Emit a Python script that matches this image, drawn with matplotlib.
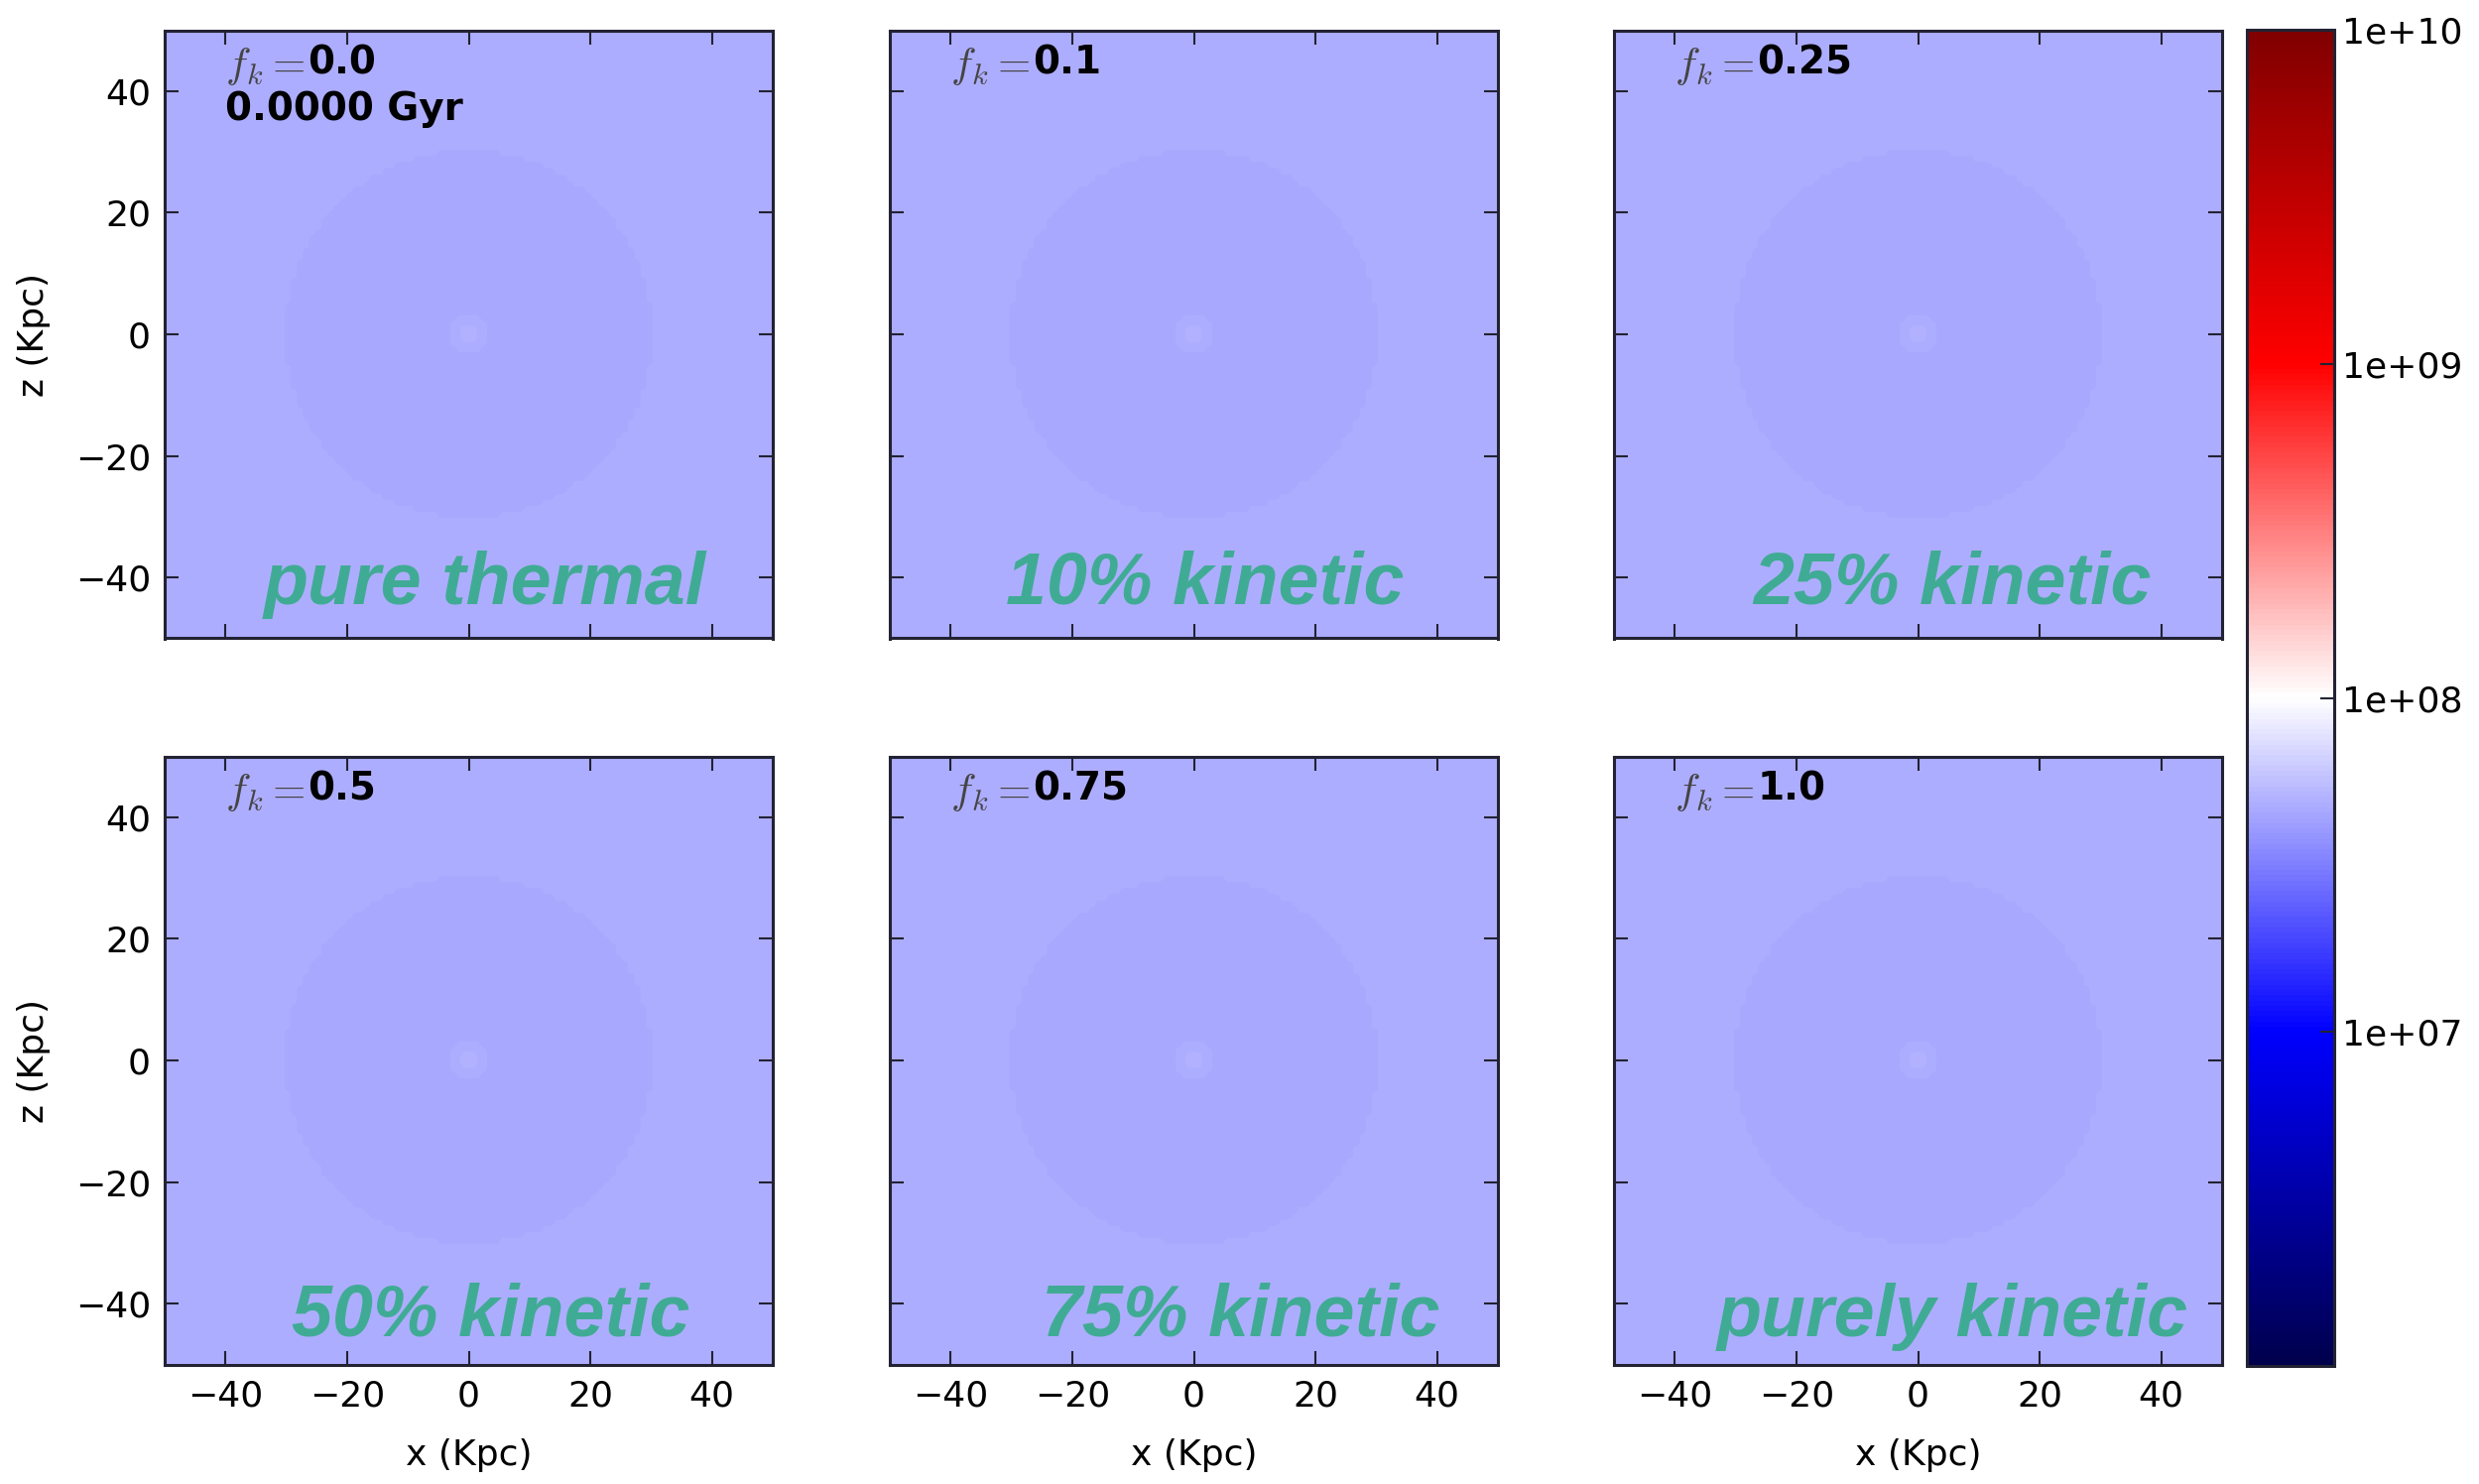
#!/usr/bin/env python3
import numpy as np
import matplotlib
matplotlib.use("Agg", force=True)
import matplotlib.pyplot as plt
from matplotlib.colors import LogNorm
from matplotlib.ticker import FuncFormatter

# ─── Runs: kinetic fraction of the AGN feedback ───────────────────────────────
fk_values = ["0.0", "0.1", "0.25", "0.5", "0.75", "1.0"]
run_names = ["pure thermal", "10% kinetic", "25% kinetic",
             "50% kinetic", "75% kinetic", "purely kinetic"]
snapshot_time = "0.0000 Gyr"

# ─── Initial gas density: radial shells (kpc) and log10 density per shell ─────
shell_edges   = [0.0, 1.0, 3.0, 30.0, 46.0, 80.0]
shell_log_rho = [7.70, 7.685, 7.658, 7.676, 7.682]

axis_ticks = [-40, -20, 0, 20, 40]
cbar_ticks = [1e7, 1e8, 1e9, 1e10]
rho_min, rho_max = 1e6, 1e10

# label placement (axes fraction): centre x, baseline y
name_pos = [(0.527, 0.057), (0.518, 0.057), (0.556, 0.057),
            (0.536, 0.047), (0.577, 0.047), (0.557, 0.047)]

# ─── Density slice on a 1 kpc grid ────────────────────────────────────────────
centres = np.arange(-49.5, 50.0, 1.0)
X, Z = np.meshgrid(centres, centres)
shell = np.digitize(np.hypot(X, Z), shell_edges) - 1
rho = 10.0 ** np.asarray(shell_log_rho)[shell]

W, H = 2499, 1496
fig = plt.figure(figsize=(W / 100, H / 100), dpi=100)
fig.patch.set_facecolor("white")

col_left = [166, 897, 1627]
row_top  = [30, 762]
pw, ph   = 613, 614
norm = LogNorm(vmin=rho_min, vmax=rho_max)

im = None
for i in range(6):
    r, c = divmod(i, 3)
    ax = fig.add_axes([col_left[c] / W, 1 - (row_top[r] + ph) / H, pw / W, ph / H])
    im = ax.imshow(rho, cmap="seismic", norm=norm, origin="lower",
                   extent=[-50, 50, -50, 50], interpolation="bilinear")
    ax.set_xlim(-50, 50)
    ax.set_ylim(-50, 50)
    ax.set_xticks(axis_ticks)
    ax.set_yticks(axis_ticks)
    ax.tick_params(direction="in", top=True, right=True, length=10, width=1.5,
                   labelsize=26, color="#222233")
    ax.tick_params(axis="y", pad=10)
    ax.tick_params(axis="x", pad=11)
    for sp in ax.spines.values():
        sp.set_linewidth(2.2)
        sp.set_color("#222233")

    if r == 0:
        ax.set_xticklabels([])
    else:
        ax.set_xlabel("x (Kpc)", fontsize=26, labelpad=18)
    if c != 0:
        ax.set_yticklabels([])
    else:
        ax.set_ylabel("z (Kpc)", fontsize=26, labelpad=18)

    # f_k = <value>
    lab = ax.text(0.10, 0.922, r"$f_k=$", transform=ax.transAxes,
                  fontsize=31, color="#444444", va="baseline",
                  math_fontfamily="cm")
    ax.annotate(fk_values[i], xy=(1, 0), xycoords=lab, xytext=(2, 4),
                textcoords="offset points", fontsize=28, fontweight="bold",
                va="bottom", ha="left")
    if i == 0:
        ax.text(0.10, 0.87, snapshot_time, transform=ax.transAxes,
                fontsize=28, fontweight="bold", va="center", ha="left")

    nx, ny = name_pos[i]
    ax.text(nx, ny, run_names[i], transform=ax.transAxes, ha="center",
            va="baseline", fontsize=53, fontweight="bold", style="italic",
            family=["Liberation Sans", "DejaVu Sans"], color="#40ab94")

# ─── Colour bar ───────────────────────────────────────────────────────────────
cax = fig.add_axes([2265 / W, 1 - 1377 / H, 88 / W, 1347 / H])
cb = fig.colorbar(im, cax=cax)
cb.set_ticks(cbar_ticks)
cb.minorticks_off()
cb.ax.yaxis.set_major_formatter(FuncFormatter(lambda v, p: "%.0e" % v))
cb.ax.tick_params(direction="in", length=10, width=1.5, labelsize=26, pad=6,
                  color="#222233")
cb.outline.set_linewidth(2.2)
cb.outline.set_edgecolor("#222233")

fig.savefig("out.png", dpi=100)
